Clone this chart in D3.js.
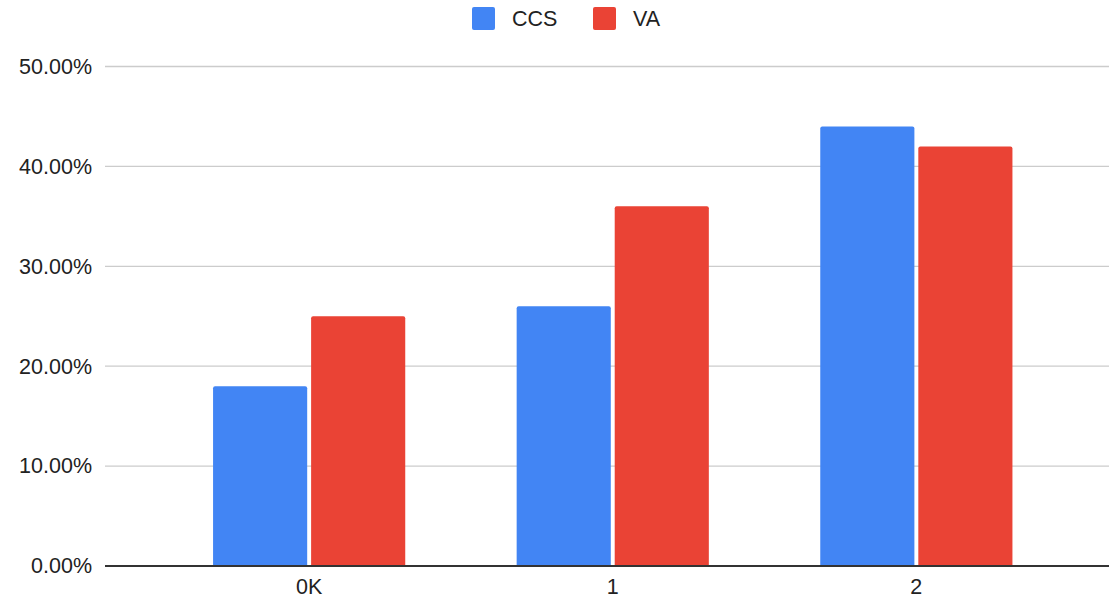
<!DOCTYPE html>
<meta charset="utf-8">
<body style="margin:0;background:#fff">
</body>
<script src="https://cdn.jsdelivr.net/npm/d3@7"></script>
<script>
// chart data
const categories = ["0K", "1", "2"];
const seriesNames = ["CCS", "VA"];
const ccsValues = [0.18, 0.26, 0.44];
const vaValues = [0.25, 0.36, 0.42];
const yTicks = [0, 0.1, 0.2, 0.3, 0.4, 0.5];
const colors = ["#4285f4", "#ea4335"];

const width = 1109, height = 602;
const font = "'Liberation Sans', Arial, sans-serif";
const fontSize = 21.5;

const svg = d3.select("body").append("svg")
	.attr("width", width)
	.attr("height", height)
	.style("font-family", font);

const plotLeft = 105, plotRight = 1109;
const y = d3.scaleLinear().domain([0, 0.5]).range([566, 66.5]);

// band centres sit at ~309, 612, 916
const x = d3.scaleBand().domain(categories).range([157.5, 1068]).paddingInner(0.367).paddingOuter(0.183);
const xs = d3.scaleBand().domain(seriesNames).range([0, x.bandwidth()]).paddingInner(0.04);

// gridlines + tick labels
const yAxis = d3.axisLeft(y).tickValues(yTicks).tickFormat(d3.format(".2%")).tickSize(0).tickPadding(13);
const gy = svg.append("g").attr("transform", `translate(${plotLeft},0)`).call(yAxis);
gy.select(".domain").remove();
gy.selectAll("text").attr("font-size", fontSize).attr("fill", "#222").attr("font-family", font);

svg.append("g").selectAll("line")
	.data(yTicks.filter(d => d > 0))
	.join("line")
	.attr("x1", plotLeft).attr("x2", plotRight)
	.attr("y1", d => y(d)).attr("y2", d => y(d))
	.attr("stroke", "#cccccc").attr("stroke-width", 1.3);

// bars with slightly rounded tops
const rows = categories.map((c, i) => ({c, vals: [ccsValues[i], vaValues[i]]}));
function barPath(x0, w, top, bottom, r) {
	return `M${x0},${bottom}V${top + r}Q${x0},${top} ${x0 + r},${top}H${x0 + w - r}Q${x0 + w},${top} ${x0 + w},${top + r}V${bottom}Z`;
}
svg.append("g").selectAll("g")
	.data(rows)
	.join("g")
	.attr("transform", d => `translate(${x(d.c)},0)`)
	.selectAll("path")
	.data(d => d.vals.map((v, i) => ({s: seriesNames[i], v, i})))
	.join("path")
	.attr("fill", d => colors[d.i])
	.attr("d", d => barPath(xs(d.s), xs.bandwidth(), y(d.v), y(0), 2));

// x axis
const xAxis = d3.axisBottom(x).tickSize(0).tickPadding(13);
const gx = svg.append("g").attr("transform", `translate(0,${y(0)})`).call(xAxis);
gx.select(".domain").remove();
gx.selectAll("text").attr("font-size", fontSize).attr("fill", "#222").attr("font-family", font);
svg.append("line")
	.attr("x1", plotLeft).attr("x2", plotRight)
	.attr("y1", y(0)).attr("y2", y(0))
	.attr("stroke", "#333").attr("stroke-width", 2);

// legend
const legend = svg.append("g");
const legendX = [472, 593];
seriesNames.forEach((s, i) => {
	legend.append("rect")
		.attr("x", legendX[i]).attr("y", 7)
		.attr("width", 23).attr("height", 23)
		.attr("rx", 2).attr("fill", colors[i]);
	legend.append("text")
		.attr("x", legendX[i] + 40).attr("y", 18.5)
		.attr("dominant-baseline", "central")
		.attr("font-size", fontSize).attr("fill", "#222")
		.text(s);
});
</script>
